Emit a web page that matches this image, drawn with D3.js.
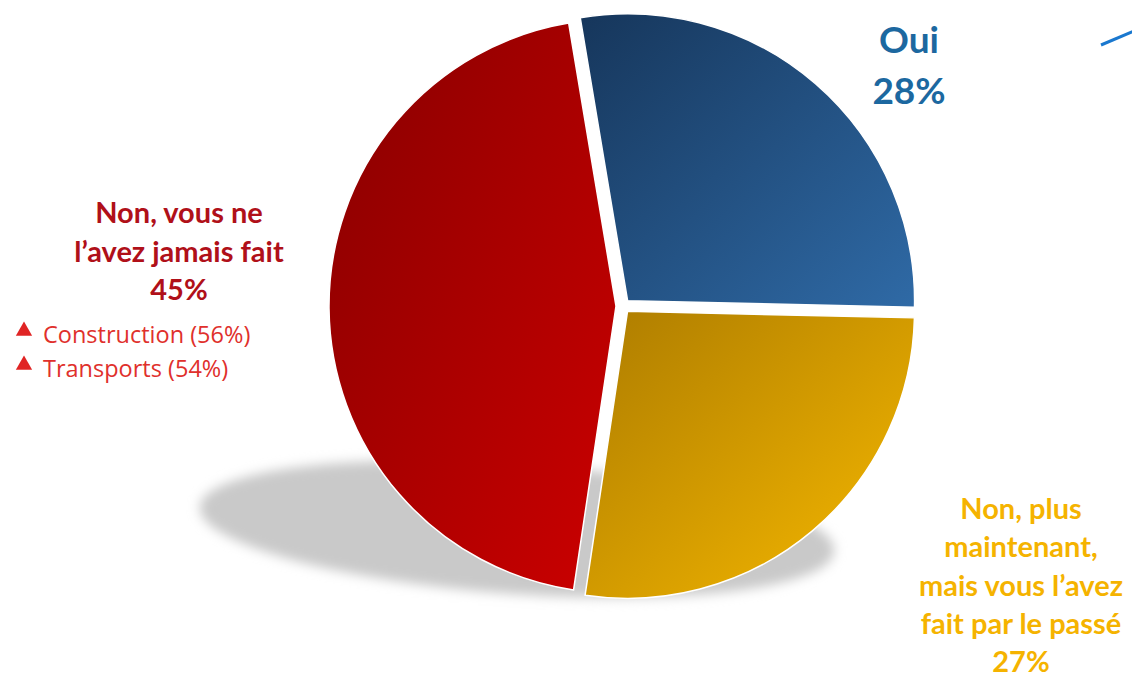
<!DOCTYPE html>
<html>
<head>
<meta charset="utf-8">
<script src="https://cdn.jsdelivr.net/npm/d3@7"></script>
<style>
  html, body { margin: 0; padding: 0; background: #ffffff; }
  svg { display: block; }
</style>
</head>
<body>
<div id="chart"></div>
<script>
// ---- data ----
const categories = ["Oui", "Non, plus maintenant, mais vous l’avez fait par le passé", "Non, vous ne l’avez jamais fait"];
const values = [28, 27, 45];
const percentLabels = ["28%", "27%", "45%"];
const labelLines = [
  ["Oui"],
  ["Non, plus", "maintenant,", "mais vous l’avez", "fait par le passé"],
  ["Non, vous ne", "l’avez jamais fait"]
];
const subLabels = ["Construction (56%)", "Transports (54%)"];

// ---- layout / style ----
const W = 1132, H = 679;
const cx = 623, cy = 306, R = 287, explode = 7;
const startDeg = -9.5;
const gradStops = [
  ["#16365b", "#2f6aa6"],
  ["#ad7c00", "#f7b900"],
  ["#870000", "#cc0000"]
];
const textColors = ["#1c68a0", "#f5b300", "#b01019"];
const subColor = "#e0302c";

const svg = d3.select("#chart").append("svg").attr("width", W).attr("height", H);
const defs = svg.append("defs");

const blur = defs.append("filter").attr("id", "shadowBlur")
  .attr("x", "-20%").attr("y", "-50%").attr("width", "140%").attr("height", "200%");
blur.append("feGaussianBlur").attr("stdDeviation", 6);

gradStops.forEach((g, i) => {
  const lg = defs.append("linearGradient").attr("id", "grad" + i)
    .attr("x1", 0).attr("y1", 0).attr("x2", 1).attr("y2", 1);
  lg.append("stop").attr("offset", "0%").attr("stop-color", g[0]);
  lg.append("stop").attr("offset", "100%").attr("stop-color", g[1]);
});

// shadow ellipse
svg.append("ellipse")
  .attr("cx", 517).attr("cy", 529).attr("rx", 318).attr("ry", 65)
  .attr("transform", "rotate(4,517,529)")
  .attr("fill", "#c9c9c9")
  .attr("filter", "url(#shadowBlur)");

// pie
const a0 = startDeg * Math.PI / 180;
const pie = d3.pie().sort(null).value(d => d).startAngle(a0).endAngle(a0 + 2 * Math.PI);
const arcs = pie(values);
const arc = d3.arc().innerRadius(0).outerRadius(R);

const g = svg.append("g").attr("transform", `translate(${cx},${cy})`);
g.selectAll("path.slice").data(arcs).enter().append("path")
  .attr("class", "slice")
  .attr("d", arc)
  .attr("transform", d => {
    const m = (d.startAngle + d.endAngle) / 2;
    return `translate(${explode * Math.sin(m)},${-explode * Math.cos(m)})`;
  })
  .attr("fill", (d, i) => `url(#grad${i})`)
  .attr("stroke", "#ffffff")
  .attr("stroke-width", 1.5)
  .attr("stroke-linejoin", "miter");

// labels
const labelPos = [
  { x: 909, y: 53, dy: 51, size: 37 },
  { x: 1021, y: 519, dy: 38.3, size: 29 },
  { x: 179, y: 223, dy: 38.5, size: 29 }
];
labelLines.forEach((lines, i) => {
  const p = labelPos[i];
  const t = svg.append("text")
    .attr("text-anchor", "middle")
    .style("font-family", "Lato, 'Open Sans', sans-serif")
    .style("font-weight", "bold")
    .style("font-size", p.size + "px")
    .attr("fill", textColors[i]);
  const all = lines.concat([percentLabels[i]]);
  all.forEach((ln, j) => {
    t.append("tspan").attr("x", p.x).attr("y", p.y + j * p.dy).text(ln);
  });
});

// sub labels with triangles
subLabels.forEach((s, j) => {
  const by = 343 + j * 34;
  svg.append("path")
    .attr("d", d3.symbol().type(d3.symbolTriangle).size(115)())
    .attr("transform", `translate(24,${by - 12})`)
    .attr("fill", "#e02424");
  svg.append("text")
    .attr("x", 43).attr("y", by)
    .style("font-family", "'Open Sans', sans-serif")
    .style("font-size", "23.5px")
    .attr("fill", subColor)
    .text(s);
});

// decorative blue stroke at top right
svg.append("line")
  .attr("x1", 1101).attr("y1", 45).attr("x2", 1134).attr("y2", 31)
  .attr("stroke", "#1a78cf").attr("stroke-width", 3);
</script>
</body>
</html>
